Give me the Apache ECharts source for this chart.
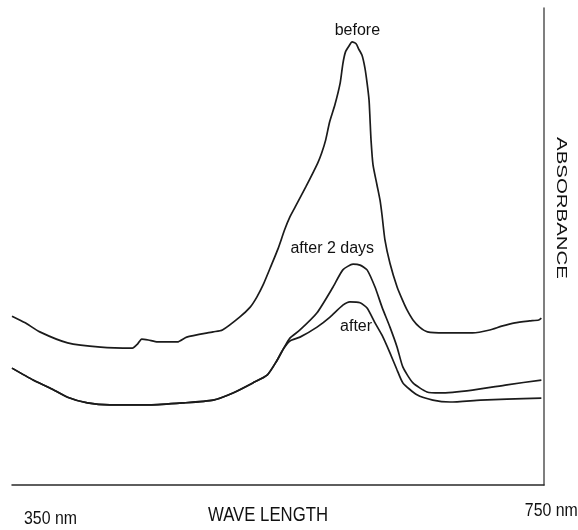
<!DOCTYPE html>
<html>
<head>
<meta charset="utf-8">
<script src="https://cdn.jsdelivr.net/npm/echarts@6/dist/echarts.min.js"></script>
<style>
  html, body { margin: 0; padding: 0; background: #fff; }
  #chart { width: 578px; height: 530px; }
</style>
</head>
<body>
<div id="chart"></div>
<script>
// UV-Vis absorption spectra: wavelength (nm) and absorbance (arbitrary units)

const beforeNm = [350, 360, 371, 392, 417, 441, 445, 448, 453, 460, 475, 482, 502, 509, 522, 530, 535, 540, 546, 551,
  556, 560, 564, 572, 581, 584, 587, 590, 594, 598, 600, 602, 605, 607, 610, 612, 614.5, 616.7, 618.3, 619.8,
  620.5, 621.3, 622.8, 625.8, 628.1, 629.6, 631.8, 635.6, 641, 645, 648.5, 653, 658, 664, 677, 698, 711, 720, 730, 741, 748, 750];
const beforeAbs = [0.354, 0.340, 0.321, 0.298, 0.289, 0.287, 0.296, 0.306, 0.304, 0.300, 0.300, 0.310, 0.321, 0.325, 0.352, 0.373, 0.394, 0.421, 0.461, 0.495,
  0.535, 0.562, 0.583, 0.625, 0.675, 0.696, 0.723, 0.761, 0.797, 0.843, 0.883, 0.908, 0.922, 0.929, 0.925, 0.914, 0.901, 0.874, 0.843, 0.807,
  0.769, 0.723, 0.671, 0.629, 0.597, 0.566, 0.514, 0.465, 0.415, 0.388, 0.367, 0.346, 0.331, 0.321, 0.319, 0.319, 0.325, 0.333, 0.340, 0.344, 0.346, 0.350];

// the two later spectra coincide below ~555 nm
const baseNm = [350, 366, 379, 392, 407, 424, 454, 479, 502, 517, 532, 543, 550, 555];
const baseAbs = [0.245, 0.220, 0.203, 0.184, 0.172, 0.168, 0.168, 0.172, 0.178, 0.193, 0.214, 0.231, 0.260, 0.285];

const after2dNm = [560, 567.6, 580.5, 592.6, 600, 607.7, 613, 618.3, 624.3, 629.6, 635.6, 641, 645.4, 653, 663.6, 673.4, 698, 724, 750];
const after2dAbs = [0.308, 0.325, 0.361, 0.415, 0.451, 0.463, 0.461, 0.451, 0.415, 0.373, 0.331, 0.289, 0.247, 0.214, 0.195, 0.193, 0.199, 0.210, 0.220];

const afterNm = [560, 567.6, 580.5, 590.3, 600, 605.4, 613, 618.3, 624.3, 629.6, 635.6, 641, 645.4, 656, 668, 681, 704, 724, 750];
const afterAbs = [0.302, 0.310, 0.331, 0.352, 0.377, 0.384, 0.382, 0.371, 0.340, 0.314, 0.277, 0.241, 0.214, 0.189, 0.178, 0.174, 0.178, 0.180, 0.182];

const tickValues = [350, 750];
const tickLabels = ['350 nm', '750 nm'];
const seriesNames = ['before', 'after 2 days', 'after'];
const xTitle = 'WAVE LENGTH';
const yTitle = 'ABSORBANCE';

function zip(xs, ys) { return xs.map((x, i) => [x, ys[i]]); }

// canvas metrics, used to fit the axis texts to a set width
const probe = document.createElement('canvas').getContext('2d');
function textWidth(str, font) { probe.font = font; return probe.measureText(str).width; }
const face = '"Liberation Sans"';
const plain = 'Liberation Sans, Arial, sans-serif';
const ink = '#111';

const chart = echarts.init(document.getElementById('chart'), null, { renderer: 'canvas' });

function peakLabel(name, coord) {
  return {
    symbol: 'rect', symbolSize: 1, silent: true,
    itemStyle: { color: 'rgba(0,0,0,0)' },
    label: { show: true, position: 'inside', formatter: '{b}', color: ink, fontFamily: plain, fontSize: 16 },
    data: [{ name: name, coord: coord }]
  };
}

function curve(name, data, coord) {
  return {
    name: name, type: 'line', data: data,
    symbol: 'none', smooth: 0.2,
    lineStyle: { color: '#1b1b1b', width: 1.7 },
    markPoint: peakLabel(name, coord),
    animation: false
  };
}

chart.setOption({
  backgroundColor: '#fff',
  animation: false,
  grid: { left: 12, right: 34, top: 8, bottom: 45, outerBoundsMode: 'none' },
  xAxis: {
    type: 'value', min: 350, max: 752,
    axisLine: { show: true, lineStyle: { color: '#2a2a2a', width: 1.5 } },
    axisTick: { show: false },
    splitLine: { show: false },
    axisLabel: { show: false }
  },
  yAxis: {
    type: 'value', min: 0, max: 1, position: 'right',
    axisLine: { show: true, lineStyle: { color: '#555', width: 1.5 } },
    axisTick: { show: false },
    axisLabel: { show: false },
    splitLine: { show: false }
  },
  series: [
    curve(seriesNames[0], zip(beforeNm, beforeAbs), [611, 0.952]),
    curve(seriesNames[1], zip(baseNm.concat(after2dNm), baseAbs.concat(after2dAbs)), [592, 0.495]),
    curve(seriesNames[2], zip(baseNm.concat(afterNm), baseAbs.concat(afterAbs)), [610, 0.333])
  ]
});

// axis text fitted to a width, placed relative to the axis ends
function fitted(str, x, y, size, width, align, rotation) {
  const font = size + 'px ' + face;
  return {
    type: 'text', x: x, y: y, rotation: rotation || 0,
    scaleX: width / textWidth(str, font), silent: true,
    style: { text: str, font: font, fill: ink, textAlign: align, textVerticalAlign: 'middle' }
  };
}
const xMinPx = chart.convertToPixel({ xAxisIndex: 0 }, tickValues[0]);
const xMaxPx = chart.convertToPixel({ xAxisIndex: 0 }, tickValues[1]);

chart.setOption({
  graphic: [
    fitted(tickLabels[0], xMinPx + 12, 519, 19, 53, 'left'),
    fitted(tickLabels[1], xMaxPx + 10, 511, 19, 53, 'center'),
    fitted(xTitle, 268, 515, 21, 120, 'center'),
    fitted(yTitle, 561, 208, 14, 142, 'center', -Math.PI / 2)
  ]
});
</script>
</body>
</html>
